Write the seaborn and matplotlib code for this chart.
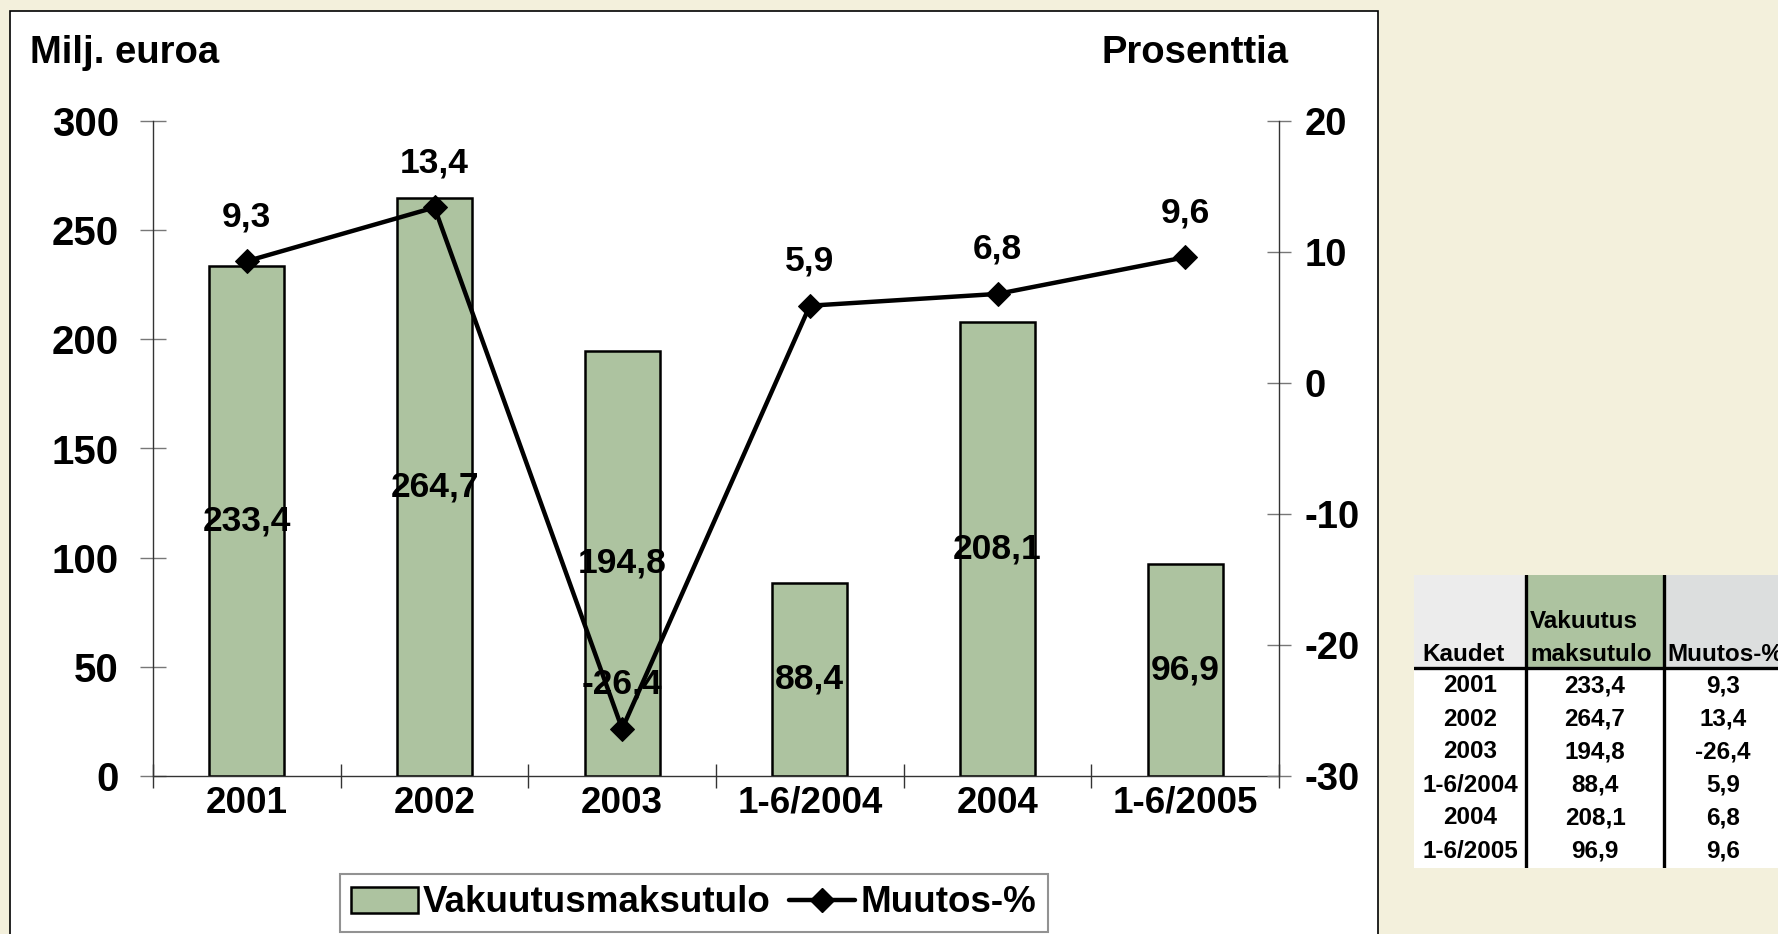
import matplotlib
matplotlib.use("Agg")
import matplotlib.pyplot as plt
from matplotlib.patches import Rectangle
from matplotlib.lines import Line2D
import numpy as np
import pandas as pd
import seaborn as sns

# data
kaudet = ["2001", "2002", "2003", "1-6/2004", "2004", "1-6/2005"]
maksutulo = [233.4, 264.7, 194.8, 88.4, 208.1, 96.9]
muutos = [9.3, 13.4, -26.4, 5.9, 6.8, 9.6]
left_ticks = [0, 50, 100, 150, 200, 250, 300]
right_ticks = [-30, -20, -10, 0, 10, 20]
table_head = [["Kaudet"], ["Vakuutus", "maksutulo"], ["Muutos-%"]]

green = "#ADC3A0"
cream = "#F3F0DC"
W, H = 1778, 934


def fi(v):
    return f"{v:.1f}".replace(".", ",")


sns.set_style("white")
plt.rcParams["font.family"] = ["Liberation Sans", "DejaVu Sans"]
plt.rcParams["font.weight"] = "bold"
plt.rcParams["axes.unicode_minus"] = False
plt.rcParams["text.color"] = "black"
plt.rcParams["xtick.labelcolor"] = "black"
plt.rcParams["ytick.labelcolor"] = "black"

fig = plt.figure(figsize=(W / 100, H / 100), dpi=100, facecolor=cream)

# white chart panel
panel = Rectangle((10 / W, -0.05), 1368 / W, 1.05 - 11 / H, transform=fig.transFigure,
                  facecolor="white", edgecolor="black", lw=1.2, zorder=-1)
fig.add_artist(panel)

ax = fig.add_axes([153 / W, 1 - 776 / H, 1126 / W, 655 / H])
ax.patch.set_visible(False)

df = pd.DataFrame({"Kaudet": kaudet, "Vakuutusmaksutulo": maksutulo, "Muutos": muutos})
sns.barplot(data=df, x="Kaudet", y="Vakuutusmaksutulo", color=green, saturation=1,
            width=0.4, edgecolor="black", linewidth=1.8, ax=ax)
ax.bar_label(ax.containers[0], labels=[fi(v) for v in maksutulo], label_type="center",
             fontsize=25.5, fontweight="bold")
ax.set_ylim(0, 300)
ax.set_yticks(left_ticks)
ax.set_xlim(-0.5, 5.5)
ax.set_xlabel("")
ax.set_ylabel("")

ax2 = ax.twinx()
sns.lineplot(x=np.arange(len(kaudet)), y=muutos, ax=ax2, color="black", lw=3.2,
             marker="D", markersize=12, markeredgecolor="black", legend=False)
ax2.set_ylim(-30, 20)
ax2.set_yticks(right_ticks)
ax2.set_xlim(-0.5, 5.5)
ax2.set_ylabel("")
for i, v in enumerate(muutos):
    ax2.annotate(fi(v), (i, v), xytext=(0, 32), textcoords="offset points",
                 ha="center", va="center", fontsize=25.5, fontweight="bold")

# spines and ticks
for a in (ax, ax2):
    for s in a.spines.values():
        s.set_color("#333333")
        s.set_linewidth(1)
    a.spines["top"].set_visible(False)
ax.spines["right"].set_visible(False)
ax2.spines["left"].set_visible(False)
ax2.spines["bottom"].set_visible(False)

ax.tick_params(axis="y", direction="inout", length=19, width=1, color="#777777",
               pad=15, labelsize=29, left=True)
ax.tick_params(axis="x", which="major", length=0, pad=7, labelsize=26.5)
ax.set_xticks(np.arange(-0.5, 6, 1), minor=True)
ax.tick_params(axis="x", which="minor", direction="inout", length=17, width=1,
               color="#333333", bottom=True)
ax2.tick_params(axis="y", direction="inout", length=17, width=1, color="#777777",
                pad=10, labelsize=27.5, right=True)

fig.text(30 / W, 1 - 63 / H, "Milj. euroa", fontsize=27.5, ha="left", va="baseline")
fig.text(1288 / W, 1 - 63 / H, "Prosenttia", fontsize=27.5, ha="right", va="baseline")

handles = [Rectangle((0, 0), 1, 1, facecolor=green, edgecolor="black", lw=1.8),
           Line2D([], [], color="black", lw=3.2, marker="D", markersize=12)]
leg = fig.legend(handles, ["Vakuutusmaksutulo", "Muutos-%"], loc="center",
                 bbox_to_anchor=(694 / W, 1 - 903 / H), ncol=2, fontsize=26.5,
                 frameon=True, fancybox=False, handlelength=1.8, handletextpad=0.15,
                 columnspacing=0.5, borderpad=0.3)
leg.get_frame().set_edgecolor("#777777")
leg.get_frame().set_linewidth(1.5)

# side table
tx = fig.add_axes([1414 / W, 1 - 868 / H, 368 / W, 293 / H])
tx.set_xlim(0, 368)
tx.set_ylim(293, 0)
tx.axis("off")
col_w = [112, 138, 118]
text_off = [8, 4, 3]
edges = np.concatenate([[0], np.cumsum(col_w)])
head_h = 93
row_h = 33
head_col = ["#ECECEC", green, "#DCDEDE"]
tx.add_patch(Rectangle((0, head_h), 368, 293 - head_h, facecolor="white", lw=0))
for j in range(3):
    tx.add_patch(Rectangle((edges[j], 0), col_w[j], head_h, facecolor=head_col[j], lw=0))
    lines = table_head[j]
    for k, t in enumerate(lines):
        tx.text(edges[j] + text_off[j], 86 - (len(lines) - 1 - k) * 33, t,
                ha="left", va="baseline", fontsize=17.5, clip_on=False)
rows = list(zip(kaudet, [fi(v) for v in maksutulo], [fi(v) for v in muutos]))
for i, r in enumerate(rows):
    yc = head_h + 18 + i * row_h
    for j in range(3):
        tx.text((edges[j] + edges[j + 1]) / 2, yc, r[j], ha="center", va="center",
                fontsize=17.5)
tx.plot([0, 368], [head_h, head_h], color="black", lw=2.4)
for xe in edges[1:3]:
    tx.plot([xe, xe], [0, 293], color="black", lw=2.4)

fig.savefig("out.png", dpi=100, facecolor=cream)
